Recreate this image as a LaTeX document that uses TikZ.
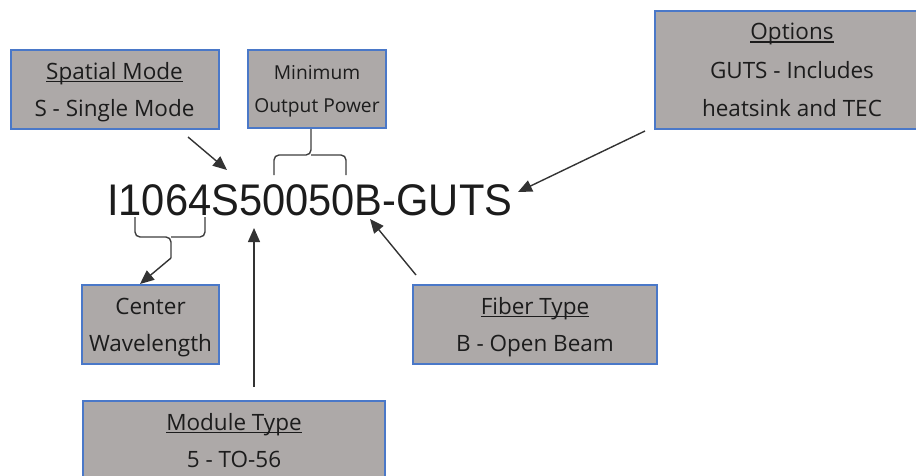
\documentclass[tikz,border=0pt]{standalone}
\usepackage{fontspec}
\setmainfont{Open Sans}
\newfontfamily\codefont[FakeStretch=0.94]{Liberation Sans}
\usetikzlibrary{arrows.meta}

\definecolor{boxfill}{HTML}{ADA9A8}
\definecolor{boxline}{HTML}{4A78C8}
\definecolor{ink}{HTML}{1C1C1C}

% word underline sitting just below the baseline
\newlength\ulwidth
\newcommand\underword[1]{\settowidth\ulwidth{#1}\rlap{\rule[-2.8pt]{\ulwidth}{1.3pt}}#1}

\tikzset{
  infobox/.style={draw=boxline, line width=2pt, fill=boxfill, text=ink,
    align=center, inner sep=0pt, text depth=0pt,
    font=\fontsize{22.5}{37}\selectfont},
  pointer/.style={draw=ink!90, line width=1.4pt,
    -{Triangle[length=14pt,width=12pt]}},
  brace/.style={draw=ink!85, line width=1.4pt, rounded corners=5pt},
}

\begin{document}
\begin{tikzpicture}[x=1pt,y=-1pt]
\useasboundingbox (0,0) rectangle (916,475);

% part number
\node[anchor=base west, inner sep=0pt, text=ink,
  font=\codefont\fontsize{44.3}{50}\selectfont] (code) at (107,215)
  {I1064S50050B-GUTS};

% description boxes
\node[infobox, minimum width=208pt, minimum height=79pt] (spatial) at (114.5,89.5)
  {\underword{Spatial Mode}\\S - Single Mode};
\node[infobox, minimum width=138pt, minimum height=78pt,
  font=\fontsize{19.2}{33}\selectfont] (power) at (317,89)
  {Minimum\\Output Power};
\node[infobox, minimum width=274pt, minimum height=118pt,
  font=\fontsize{22.5}{38.5}\selectfont] (options) at (792,70)
  {\underword{Options}\\GUTS - Includes\\heatsink and TEC};
\node[infobox, minimum width=137pt, minimum height=79pt] (center) at (150.5,324.5)
  {Center\\Wavelength};
\node[infobox, minimum width=244pt, minimum height=79pt] (fiber) at (535,324.5)
  {\underword{Fiber Type}\\B - Open Beam};
\node[infobox, minimum width=302pt, minimum height=78pt] (module) at (234,440)
  {\underword{Module Type}\\5 - TO-56};

% connector end points
\coordinate (spS) at (188,137);
\coordinate (spT) at (227,170);
\coordinate (pwL) at (274,175);
\coordinate (pwR) at (346,175);
\coordinate (pwM) at (311,155);
\coordinate (cwL) at (135,217);
\coordinate (cwR) at (205,217);
\coordinate (cwM) at (171,237);
\coordinate (cwS) at (171,258);
\coordinate (cwT) at (140,284);
\coordinate (mdS) at (254,387);
\coordinate (mdT) at (254,228);
\coordinate (fbS) at (416,275);
\coordinate (fbT) at (370,219);
\coordinate (opS) at (645,131);
\coordinate (opT) at (518,192);

% spatial mode
\draw[pointer] (spS) -- (spT);

% minimum output power brace
\draw[brace] (pwL) -- (pwL |- pwM) -- (pwM) -- (pwM |- power.south);
\draw[brace] (pwR) -- (pwR |- pwM) -- (pwM);

% center wavelength brace
\draw[brace] (cwL) -- (cwL |- cwM) -- (cwM) -- (cwS);
\draw[brace] (cwR) -- (cwR |- cwM) -- (cwM);
\draw[pointer] (cwS) -- (cwT);

% module type, fiber type, options
\draw[pointer] (mdS) -- (mdT);
\draw[pointer] (fbS) -- (fbT);
\draw[pointer] (opS) -- (opT);
\end{tikzpicture}
\end{document}
